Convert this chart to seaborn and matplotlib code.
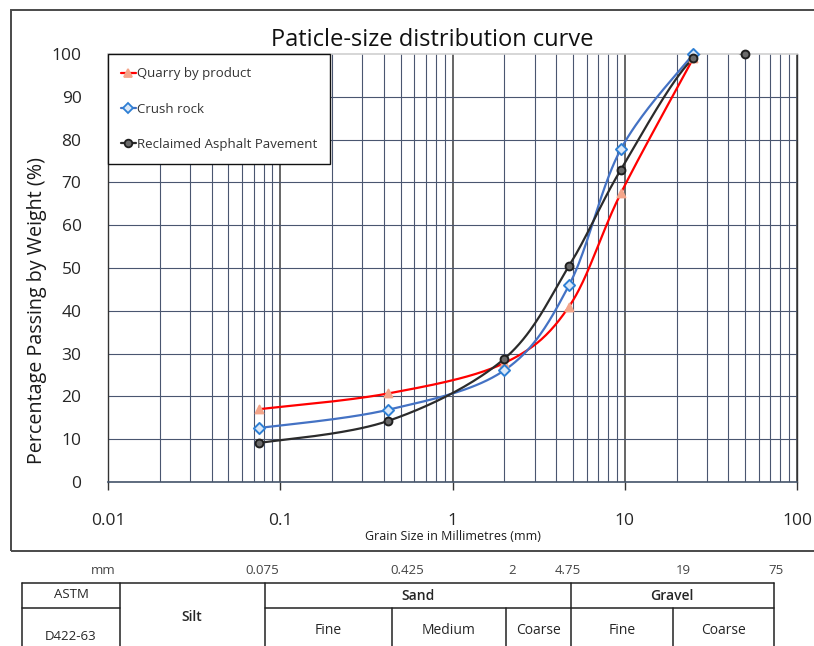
import numpy as np
import seaborn as sns
from matplotlib import pyplot as plt
from matplotlib.lines import Line2D
from matplotlib.patches import Rectangle

# sieve sizes (mm) and percent passing
sieve_mm = [0.075, 0.425, 2.0, 4.75, 9.5, 25.0]
quarry = [17.0, 20.7, 27.8, 41.0, 67.5, 99.0]
crush = [12.6, 16.9, 26.1, 46.0, 77.8, 100.0]
rap_mm = [0.075, 0.425, 2.0, 4.75, 9.5, 25.0, 50.0]
rap = [9.1, 14.3, 28.8, 50.5, 73.0, 99.0, 100.0]

x_ticks = [0.01, 0.1, 1, 10, 100]
x_tick_labels = ["0.01", "0.1", "1", "10", "100"]

# classification strip under the chart
limit_labels = ["mm", "0.075", "0.425", "2", "4.75", "19", "75"]
limit_pos = [103, 262, 407, 512, 568, 683, 776]
top_cells = ["ASTM", "Sand", "Gravel"]
bottom_cells = ["Fine", "Medium", "Coarse", "Fine", "Coarse"]


def smooth(xs, ys, n=40):
    # Excel style smoothed line: cubic bezier through the points in log-x space
    px = np.log10(np.asarray(xs, float))
    py = np.asarray(ys, float)
    px = np.concatenate([[px[0]], px, [px[-1]]])
    py = np.concatenate([[py[0]], py, [py[-1]]])
    out_x, out_y = [], []
    t = np.linspace(0, 1, n)
    for i in range(1, len(px) - 2):
        p0 = np.array([px[i], py[i]])
        p3 = np.array([px[i + 1], py[i + 1]])
        c1 = p0 + (np.array([px[i + 1], py[i + 1]]) - np.array([px[i - 1], py[i - 1]])) / 6
        c2 = p3 - (np.array([px[i + 2], py[i + 2]]) - np.array([px[i], py[i]])) / 6
        b = ((1 - t) ** 3)[:, None] * p0 + (3 * (1 - t) ** 2 * t)[:, None] * c1 \
            + (3 * (1 - t) * t ** 2)[:, None] * c2 + (t ** 3)[:, None] * p3
        out_x.extend(b[:, 0])
        out_y.extend(b[:, 1])
    return 10 ** np.array(out_x), np.array(out_y)


sns.set_theme(style="white")
plt.rcParams["font.family"] = ["Open Sans", "DejaVu Sans"]

fig = plt.figure(figsize=(8.14, 6.46), dpi=100)
W, H = 814, 646
ax = fig.add_axes([108 / W, 1 - 482 / H, 689 / W, 428 / H])

series = [
    ("Quarry by product", sieve_mm, quarry, "#ff0000", "^", "#f4a58a", "#f4a58a"),
    ("Crush rock", sieve_mm, crush, "#4472c4", "D", "#dce9f8", "#2e7fd4"),
    ("Reclaimed Asphalt Pavement", rap_mm, rap, "#2b2b2b", "o", "#6b6b6b", "#1f1f1f"),
]

handles = []
for label, xs, ys, lc, mk, fc, ec in series:
    sx, sy = smooth(xs, ys)
    sns.lineplot(x=sx, y=sy, ax=ax, color=lc, linewidth=1.6, sort=False,
                 estimator=None, zorder=3)
    sns.scatterplot(x=xs, y=ys, ax=ax, marker=mk, s=32, color=fc,
                    edgecolor=ec, linewidth=1.4, zorder=4, clip_on=False)
    handles.append(Line2D([0], [0], color=lc, lw=1.6, marker=mk, markersize=5.5,
                          markerfacecolor=fc, markeredgecolor=ec, markeredgewidth=1.3))

ax.set_xscale("log")
ax.set_xlim(0.01, 100)
ax.set_ylim(0, 100)
ax.set_yticks(range(0, 101, 10))
ax.set_xticks(x_ticks)
ax.set_xticklabels(x_tick_labels)
ax.set_xticks([m * d for d in [0.01, 0.1, 1, 10] for m in range(2, 10)], minor=True)

ax.grid(True, which="major", axis="x", color="#3c3c3c", linewidth=1.1)
ax.grid(True, which="minor", axis="x", color="#4a5670", linewidth=0.8)
ax.grid(True, which="major", axis="y", color="#4a5670", linewidth=0.8)
ax.set_axisbelow(True)
# the 100 % line is drawn light grey in the reference
ax.get_ygridlines()[-1].set_visible(False)

for side in ["left", "right"]:
    ax.spines[side].set_color("#333333")
    ax.spines[side].set_linewidth(1.0)
ax.spines["top"].set_color("#d0d0d0")
ax.spines["top"].set_linewidth(1.2)
ax.spines["bottom"].set_color("#44546a")
ax.spines["bottom"].set_linewidth(1.2)

ax.tick_params(axis="y", length=0, pad=19, labelsize=12.5, labelcolor="#262626")
ax.tick_params(axis="x", which="major", bottom=True, length=6, width=1.0,
               color="#333333", direction="out", pad=16, labelsize=12.5,
               labelcolor="#262626")
ax.tick_params(axis="x", which="minor", bottom=False, length=0)

ax.set_ylabel("Percentage Passing by Weight (%)", fontsize=14.2, color="#1a1a1a")
ax.yaxis.set_label_coords((47 - 108) / 689, (482 - 310) / 428)
ax.set_xlabel("Grain Size in Millimetres (mm)", fontsize=9, color="#1a1a1a",
              labelpad=1)
fig.text(432 / W, 1 - 40 / H, "Paticle-size distribution curve", fontsize=17,
         ha="center", va="center", color="#111111")

leg = ax.legend(handles, [s[0] for s in series], loc="upper left",
                bbox_to_anchor=(0, 1), borderaxespad=0, fontsize=9.5,
                handlelength=1.1, handletextpad=0.1, labelspacing=1.7,
                borderpad=1.0, fancybox=False, framealpha=1,
                edgecolor="#111111", frameon=True)
leg.get_frame().set_linewidth(1.0)
leg.set_zorder(10)
for t in leg.get_texts():
    t.set_color("#333333")

# chart border
fig.patches.append(Rectangle((11 / W, 1 - 551 / H), 1.0, 541 / H,
                             transform=fig.transFigure, fill=False,
                             edgecolor="#4a4a4a", linewidth=1.4))

# classification table in pixel coordinates
tb = fig.add_axes([0, 0, 1, 1 - 556 / H])
tb.set_xlim(0, W)
tb.set_ylim(646, 556)
tb.axis("off")
for lab, xp in zip(limit_labels, limit_pos):
    tb.text(xp, 570, lab, ha="center", va="center", fontsize=9.5, color="#444444")

lc_tab = "#222222"
tb.plot([22, 774], [583, 583], color=lc_tab, lw=1.1)
tb.plot([22, 120], [608, 608], color=lc_tab, lw=1.1)
tb.plot([265, 774], [608, 608], color=lc_tab, lw=1.1)
for xv in [22, 120, 265, 571, 774]:
    tb.plot([xv, xv], [583, 646], color=lc_tab, lw=1.1)
for xv in [392, 506, 673]:
    tb.plot([xv, xv], [608, 646], color=lc_tab, lw=1.1)

tb.text(71, 594, top_cells[0], ha="center", va="center", fontsize=9.5)
tb.text(71, 636, "D422-63", ha="center", va="center", fontsize=9.5)
tb.text(192, 617, "Silt", ha="center", va="center", fontsize=10, fontweight="semibold")
tb.text(418, 596, top_cells[1], ha="center", va="center", fontsize=10, fontweight="semibold")
tb.text(672, 596, top_cells[2], ha="center", va="center", fontsize=10, fontweight="semibold")
for lab, (a, b) in zip(bottom_cells, [(265, 392), (392, 506), (506, 571), (571, 673), (673, 774)]):
    tb.text((a + b) / 2, 631, lab, ha="center", va="center", fontsize=10,
            fontweight="medium")

fig.savefig("out.png", dpi=100)
